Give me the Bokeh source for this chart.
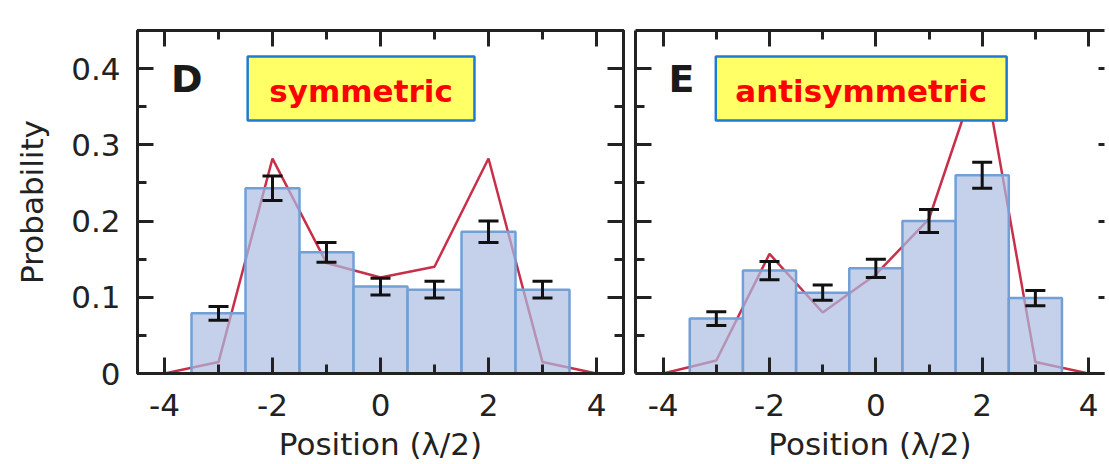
from bokeh.plotting import figure
from bokeh.layouts import row
from bokeh.models import (FixedTicker, LinearAxis, Range1d, ColumnDataSource, Whisker,
                          TeeHead, BoxAnnotation, Label, CustomLabelingPolicy)
from bokeh.embed import file_html
from bokeh.resources import INLINE

# ---- data ----
positions = [-3, -2, -1, 0, 1, 2, 3]
sym_prob = [0.079, 0.243, 0.159, 0.114, 0.110, 0.186, 0.110]
sym_err = [0.009, 0.016, 0.013, 0.011, 0.011, 0.014, 0.011]
anti_prob = [0.072, 0.135, 0.106, 0.138, 0.200, 0.260, 0.099]
anti_err = [0.009, 0.012, 0.010, 0.012, 0.015, 0.017, 0.010]
theory_x = [-4, -3, -2, -1, 0, 1, 2, 3, 4]
sym_theory = [0.0, 0.015, 0.282, 0.145, 0.126, 0.140, 0.282, 0.015, 0.0]
anti_theory = [0.0, 0.017, 0.157, 0.080, 0.130, 0.203, 0.410, 0.015, 0.0]
x_major = [-4, -2, 0, 2, 4]
x_minor = [-3, -1, 1, 3]
x_labels = {-4: "-4", -2: "-2", 0: "0", 2: "2", 4: "4"}
y_major = [0, 0.1, 0.2, 0.3, 0.4]
y_minor = [0.05, 0.15, 0.25, 0.35]
y_labels = {0: "0", 0.1: "0.1", 0.2: "0.2", 0.3: "0.3", 0.4: "0.4"}

FONT = "DejaVu Sans"
INK = "#222222"

HIDE_ALL = CustomLabelingPolicy(code="""
for (const i of Array.from(indices)) { indices.unset(i) }
return indices
""")


def style_axis(ax, show_labels, ticker, tick_major=16, tick_minor=9):
    ax.ticker = ticker
    ax.major_tick_in = tick_major
    ax.major_tick_out = 0
    ax.minor_tick_in = tick_minor
    ax.minor_tick_out = 0
    ax.major_tick_line_width = 3
    ax.minor_tick_line_width = 3
    ax.major_tick_line_color = INK
    ax.minor_tick_line_color = INK
    ax.axis_line_width = 3
    ax.axis_line_color = INK
    ax.major_label_text_font = FONT
    ax.major_label_text_color = INK
    ax.axis_label_text_font = FONT
    ax.axis_label_text_color = INK
    ax.axis_label_text_font_style = "normal"
    ax.axis_label_text_font_size = "31px"
    ax.major_label_text_font_size = "31px"
    if not show_labels:
        ax.major_label_policy = HIDE_ALL
        ax.major_label_text_font_size = "1px"
        ax.major_label_standoff = 0


def panel(width, xr, border_left, border_right, prob, err, theory, letter, tag,
          box_lr, show_y, right_line):
    p = figure(width=width, height=464, x_range=Range1d(*xr), y_range=Range1d(0, 0.45),
               output_backend="svg", toolbar_location=None,
               min_border_left=border_left, min_border_right=border_right,
               min_border_top=30, min_border_bottom=91)
    p.grid.visible = False
    p.background_fill_color = "white"
    p.border_fill_color = "white"
    if right_line:
        p.outline_line_color = INK
        p.outline_line_width = 3
    else:
        p.outline_line_color = None

    xt = FixedTicker(ticks=x_major, minor_ticks=x_minor)
    yt = FixedTicker(ticks=y_major, minor_ticks=y_minor)

    bx = p.xaxis[0]
    style_axis(bx, True, xt)
    bx.axis_label = "Position (\u03bb/2)"
    bx.major_label_overrides = x_labels
    bx.major_label_standoff = 20
    bx.axis_label_standoff = 7

    ly = p.yaxis[0]
    style_axis(ly, show_y, yt)
    if show_y:
        ly.axis_label = "Probability"
        ly.major_label_overrides = y_labels
        ly.major_label_standoff = 17
        ly.axis_label_standoff = 18

    top = LinearAxis()
    style_axis(top, False, FixedTicker(ticks=x_major, minor_ticks=x_minor))
    p.add_layout(top, "above")

    rax = LinearAxis()
    if right_line:
        style_axis(rax, False, FixedTicker(ticks=y_major, minor_ticks=y_minor))
    else:
        style_axis(rax, False, FixedTicker(ticks=y_major, minor_ticks=[]), tick_major=6,
                   tick_minor=0)
        rax.axis_line_color = None
    p.add_layout(rax, "right")

    # theory curve (under the bars)
    p.line(theory_x, theory, line_color="#c8304a", line_width=2.5)

    # histogram bars
    src = ColumnDataSource(dict(x=positions, top=prob,
                                upper=[a + b for a, b in zip(prob, err)],
                                lower=[a - b for a, b in zip(prob, err)]))
    p.vbar(x="x", top="top", width=1.0, source=src, fill_color="#acbce1", fill_alpha=0.7,
           line_color="#72a0d6", line_width=2.5)

    w = Whisker(source=src, base="x", upper="upper", lower="lower", line_color="#111111",
                line_width=3, level="overlay",
                upper_head=TeeHead(size=20, line_width=3, line_color="#111111"),
                lower_head=TeeHead(size=20, line_width=3, line_color="#111111"))
    p.add_layout(w)

    # panel letter
    p.add_layout(Label(x=xr[0] + 0.62, y=0.387, text=letter, text_font=FONT,
                       text_font_style="bold", text_font_size="38px", text_color="#1a1a1a",
                       text_align="left", text_baseline="alphabetic"))

    # yellow tag box
    p.add_layout(BoxAnnotation(left=box_lr[0], right=box_lr[1], bottom=0.332, top=0.416,
                               fill_color="#ffff66", fill_alpha=1.0,
                               line_color="#1f7bd0", line_alpha=1.0, line_width=2.5))
    p.add_layout(Label(x=(box_lr[0] + box_lr[1]) / 2, y=0.371, text=tag, text_font=FONT,
                       text_font_style="bold", text_font_size="31px", text_color="#ff0000",
                       text_align="center", text_baseline="alphabetic"))
    return p


pD = panel(629, (-4.5, 4.5), 137, 6, sym_prob, sym_err, sym_theory, "D", "symmetric",
           (-2.46, 1.74), True, True)
pE = panel(480, (-4.52, 4.30), 6, 0, anti_prob, anti_err, anti_theory, "E", "antisymmetric",
           (-3.01, 2.46), False, False)

layout = row(pD, pE)
open("out.html", "w").write(file_html(layout, INLINE))
